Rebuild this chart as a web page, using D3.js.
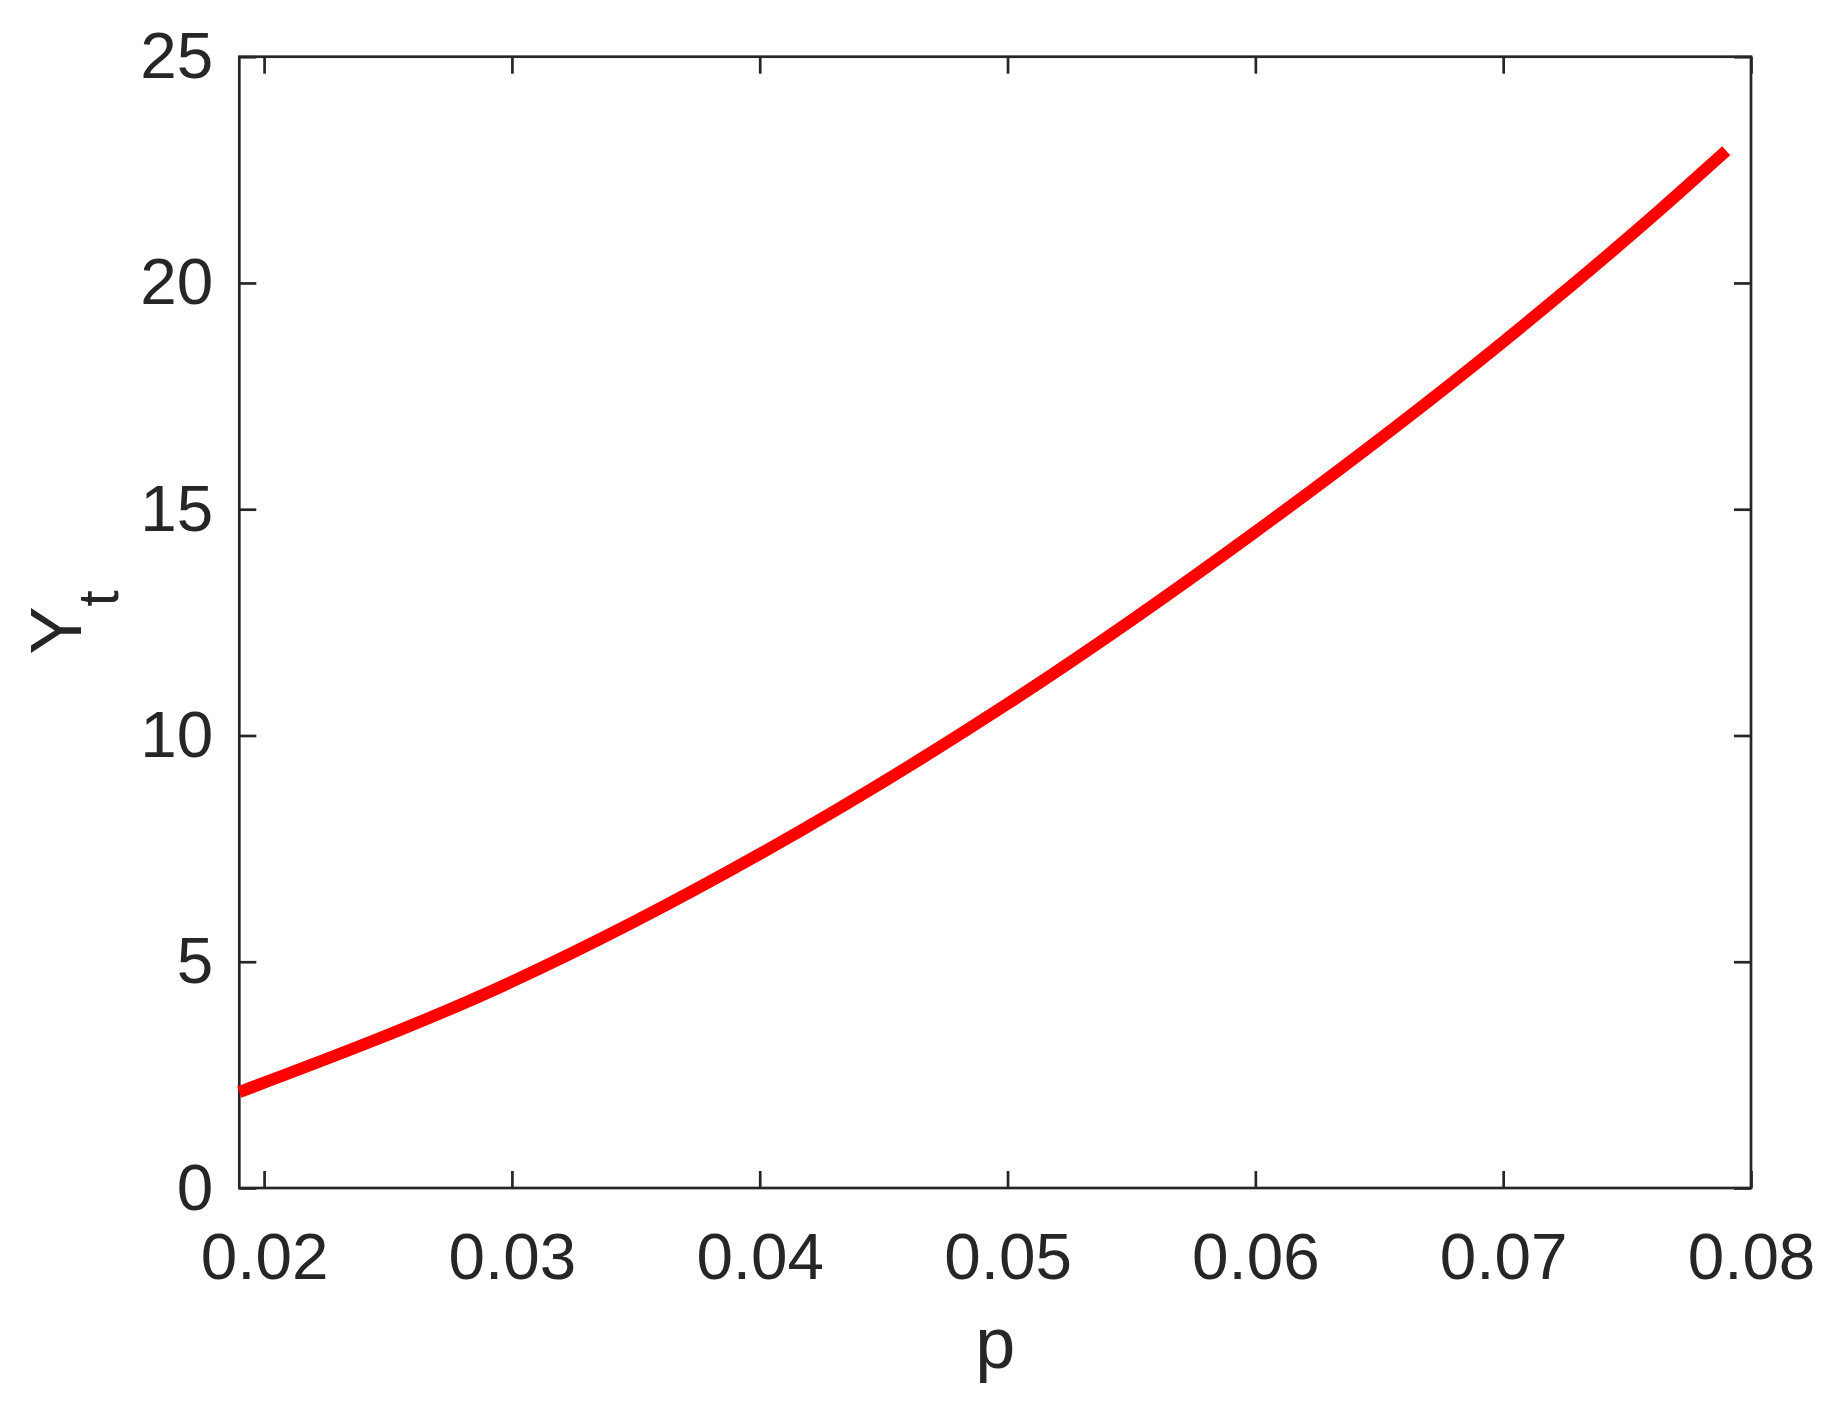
<!DOCTYPE html>
<html>
<head>
<meta charset="utf-8">
<script src="https://cdn.jsdelivr.net/npm/d3@7"></script>
<style>
  body { margin: 0; background: #fff; }
  svg { display: block; }
  .axis text { font-family: "Liberation Sans", Arial, Helvetica, sans-serif; fill: #262626; }
  .axis line { stroke: #262626; stroke-width: 2.7; }
</style>
</head>
<body>
<div id="chart"></div>
<script>
// values
let pValues = [0.019, 0.03, 0.04, 0.05, 0.06, 0.07, 0.0763, 0.079];
let ytValues = [2.12, 4.56, 7.38, 10.7, 14.5, 18.7, 21.6, 22.92];
let xTicks = [0.02, 0.03, 0.04, 0.05, 0.06, 0.07, 0.08];
let yTicks = [0, 5, 10, 15, 20, 25];

let width = 1837, height = 1410;
let plotL = 239.3, plotR = 1751, plotT = 56.7, plotB = 1188;
let ink = '#262626';
let font = '"Liberation Sans", Arial, Helvetica, sans-serif';

let svg = d3.select('#chart').append('svg')
    .attr('width', width)
    .attr('height', height);

svg.append('rect').attr('width', width).attr('height', height).attr('fill', '#fff');

let x = d3.scaleLinear().domain([0.019, 0.08]).range([plotL, plotR]);
let y = d3.scaleLinear().domain([0, 25]).range([plotB, plotT]);

let fmtX = d3.format('.2f');

// bottom axis
let gx = svg.append('g').attr('class', 'axis')
    .attr('transform', `translate(0,${plotB})`)
    .call(d3.axisBottom(x).tickValues(xTicks).tickFormat(fmtX).tickSizeInner(-17).tickSizeOuter(0).tickPadding(44));
gx.select('.domain').remove();
gx.selectAll('text').style('font-size', '65.6px');

// top axis (ticks only)
let gxt = svg.append('g').attr('class', 'axis')
    .attr('transform', `translate(0,${plotT})`)
    .call(d3.axisTop(x).tickValues(xTicks).tickFormat('').tickSizeInner(-17).tickSizeOuter(0));
gxt.select('.domain').remove();

// left axis
let gy = svg.append('g').attr('class', 'axis')
    .attr('transform', `translate(${plotL},0)`)
    .call(d3.axisLeft(y).tickValues(yTicks).tickSizeInner(-17).tickSizeOuter(0).tickPadding(26));
gy.select('.domain').remove();
gy.selectAll('text').style('font-size', '65.6px');

// right axis (ticks only)
let gyr = svg.append('g').attr('class', 'axis')
    .attr('transform', `translate(${plotR},0)`)
    .call(d3.axisRight(y).tickValues(yTicks).tickFormat('').tickSizeInner(-17).tickSizeOuter(0));
gyr.select('.domain').remove();

// box
svg.append('rect')
    .attr('x', plotL).attr('y', plotT)
    .attr('width', plotR - plotL).attr('height', plotB - plotT)
    .attr('fill', 'none')
    .attr('stroke', ink)
    .attr('stroke-width', 2.7);

// curve
let line = d3.line()
    .x((d, i) => x(pValues[i]))
    .y(d => y(d))
    .curve(d3.curveMonotoneX);

svg.append('path')
    .datum(ytValues)
    .attr('d', line)
    .attr('fill', 'none')
    .attr('stroke', '#ff0000')
    .attr('stroke-width', 12)
    .attr('stroke-linecap', 'butt');

// x label
svg.append('text')
    .attr('x', (plotL + plotR) / 2)
    .attr('y', 1368)
    .attr('text-anchor', 'middle')
    .style('font-family', font)
    .style('font-size', '72px')
    .attr('fill', ink)
    .text('p');

// y label with subscript
let yl = svg.append('text')
    .attr('transform', `translate(81,${(plotT + plotB) / 2}) rotate(-90)`)
    .attr('text-anchor', 'middle')
    .style('font-family', font)
    .style('font-size', '72px')
    .attr('fill', ink);
yl.append('tspan').text('Y');
yl.append('tspan').attr('dy', 37).style('font-size', '58px').text('t');
</script>
</body>
</html>
